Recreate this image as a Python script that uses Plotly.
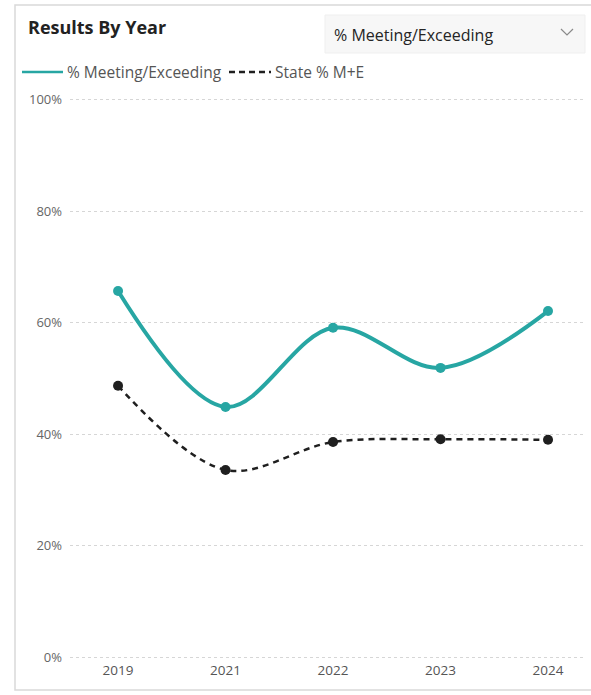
import plotly.graph_objects as go

# Data
years = ["2019", "2021", "2022", "2023", "2024"]
pct_meeting = [65.7, 44.9, 59.1, 51.9, 62.1]
state_pct = [48.7, 33.6, 38.6, 39.1, 39.0]
series_names = ["% Meeting/Exceeding", "State % M+E"]
y_ticks = [0, 20, 40, 60, 80, 100]
y_tick_text = [f"{v}%" for v in y_ticks]

W, H = 591, 695
L, R, T, B = 70, 6, 97, 35
PW, PH = W - L - R, H - T - B

TEAL = "#27A6A3"
BLACK = "#1f1f1f"


def px(x):
    return (x - L) / PW


def py(y):
    return 1 - (y - T) / PH


fig = go.Figure()
fig.add_trace(go.Scatter(
    x=years, y=pct_meeting, mode="lines+markers", name=series_names[0],
    line=dict(color=TEAL, width=4, shape="spline", smoothing=1.0),
    marker=dict(color=TEAL, size=10), showlegend=False,
))
fig.add_trace(go.Scatter(
    x=years, y=state_pct, mode="lines+markers", name=series_names[1],
    line=dict(color=BLACK, width=2.5, dash="6px,5px", shape="spline", smoothing=1.0),
    marker=dict(color=BLACK, size=10), showlegend=False,
))

shapes = []
annotations = []

# Card outline
shapes.append(dict(
    type="rect", xref="paper", yref="paper", x0=px(15), x1=px(620), y0=py(690), y1=py(5),
    line=dict(color="#d9d9d9", width=1.5), fillcolor="rgba(0,0,0,0)", layer="below",
))

# Dropdown box
shapes.append(dict(
    type="rect", xref="paper", yref="paper", x0=px(325), x1=px(585), y0=py(53), y1=py(15),
    line=dict(color="#efefef", width=1), fillcolor="#f7f7f7", layer="below",
))
# Chevron
shapes.append(dict(
    type="path", xref="paper", yref="paper",
    path=f"M {px(561)} {py(29)} L {px(567)} {py(35)} L {px(573)} {py(29)}",
    line=dict(color="#8a8a8a", width=1.2),
))
annotations.append(dict(
    text="% Meeting/Exceeding", xref="paper", yref="paper", x=px(332), y=py(35),
    xanchor="left", yanchor="middle", showarrow=False,
    font=dict(family="Open Sans", size=16, color="#252525"),
))

# Title
annotations.append(dict(
    text="<b>Results By Year</b>", xref="paper", yref="paper", x=px(26), y=py(27),
    xanchor="left", yanchor="middle", showarrow=False,
    font=dict(family="Open Sans", size=18, color="#222222"),
))

# Legend
shapes.append(dict(type="line", xref="paper", yref="paper", x0=px(22), x1=px(63),
                   y0=py(72), y1=py(72), line=dict(color=TEAL, width=2.5)))
annotations.append(dict(
    text=series_names[0], xref="paper", yref="paper", x=px(65), y=py(72),
    xanchor="left", yanchor="middle", showarrow=False,
    font=dict(family="Open Sans", size=15.5, color="#555555"),
))
shapes.append(dict(type="line", xref="paper", yref="paper", x0=px(229), x1=px(271),
                   y0=py(72), y1=py(72), line=dict(color=BLACK, width=2.5, dash="6px,4px")))
annotations.append(dict(
    text=series_names[1], xref="paper", yref="paper", x=px(273), y=py(72),
    xanchor="left", yanchor="middle", showarrow=False,
    font=dict(family="Open Sans", size=15.5, color="#555555"),
))

fig.update_layout(
    width=W, height=H,
    margin=dict(l=L, r=R, t=T, b=B, pad=0),
    paper_bgcolor="white", plot_bgcolor="white",
    shapes=shapes, annotations=annotations,
    xaxis=dict(
        type="category", range=[-0.447, 4.344], showgrid=False, zeroline=False,
        showline=False, ticks="", tickfont=dict(family="Open Sans", size=13.5, color="#555555"),
        ticklabelstandoff=0, fixedrange=True,
    ),
    yaxis=dict(
        range=[-0.5, 100.5], tickmode="array", tickvals=y_ticks, ticktext=y_tick_text,
        showgrid=True, gridcolor="#d6d6d6", griddash="dot", gridwidth=1.3,
        zeroline=False, showline=False,
        ticks="", tickfont=dict(family="Open Sans", size=13, color="#666666"),
        ticklabelstandoff=7, fixedrange=True,
    ),
    showlegend=False,
)

fig.write_html("out.html")
